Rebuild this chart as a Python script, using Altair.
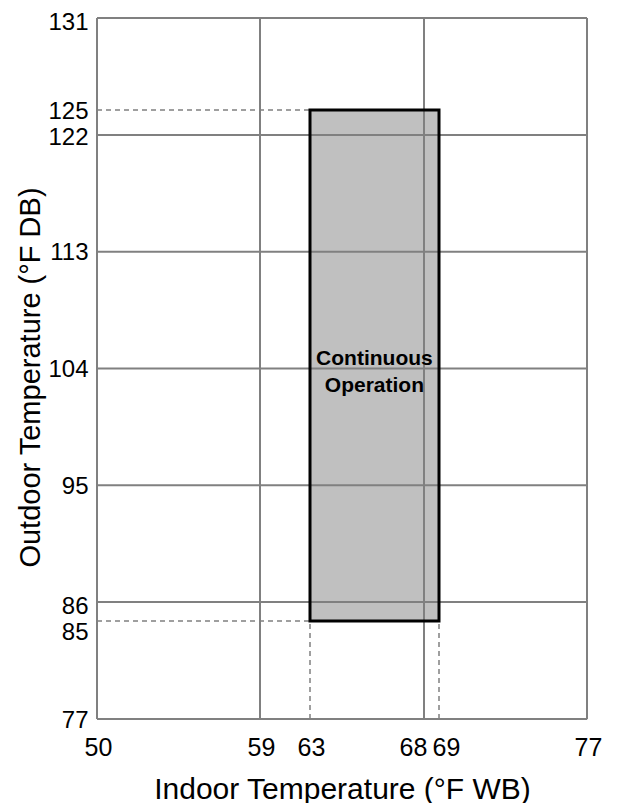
import altair as alt
import pandas as pd

# ---- data ----
x_ticks = [50, 59, 63, 68, 69, 77]          # labelled indoor WB temperatures
y_ticks = [77, 85, 86, 95, 104, 113, 122, 125, 131]  # labelled outdoor DB temperatures
x_grid = [50, 59, 68, 77]
y_grid = [77, 86, 95, 104, 113, 122, 131]
indoor_range = [63, 69]     # continuous operation, indoor WB
outdoor_range = [85, 125]   # continuous operation, outdoor DB
label_text = ["Continuous", "Operation"]

# schematic (non-uniform) axis layout of the original drawing
W, H = 490, 701
x_scale = alt.Scale(domain=[50, 59, 63, 68, 69, 77],
                    range=[0, 163, 213, 327, 342, 490], nice=False, zero=False)
y_scale = alt.Scale(domain=[77, 85, 86, 122, 125, 131],
                    range=[701, 603, 584, 117, 92, 0], nice=False, zero=False)

xmin, xmax = min(x_grid), max(x_grid)
ymin, ymax = min(y_grid), max(y_grid)

grid_df = pd.DataFrame(
    [{"x": v, "x2": v, "y": ymin, "y2": ymax} for v in x_grid]
    + [{"x": xmin, "x2": xmax, "y": v, "y2": v} for v in y_grid]
)
rect_df = pd.DataFrame([{"x": indoor_range[0], "x2": indoor_range[1],
                         "y": outdoor_range[0], "y2": outdoor_range[1]}])
dash_df = pd.DataFrame([
    {"x": xmin, "x2": indoor_range[0], "y": outdoor_range[1], "y2": outdoor_range[1]},
    {"x": xmin, "x2": indoor_range[0], "y": outdoor_range[0], "y2": outdoor_range[0]},
    {"x": indoor_range[0], "x2": indoor_range[0], "y": ymin, "y2": outdoor_range[0]},
    {"x": indoor_range[1], "x2": indoor_range[1], "y": ymin, "y2": outdoor_range[0]},
])
text_df = pd.DataFrame([{"x": sum(indoor_range) / 2, "y": 104,
                         "t": label_text}])

FONT = "Liberation Sans"

x_axis = alt.Axis(
    values=x_ticks, title="Indoor Temperature (°F WB)", grid=False, ticks=False,
    domain=False, labelFontSize=25, labelFont=FONT, labelColor="black",
    labelPadding=16, labelOverlap=False, labelFlush=False,
    labelOffset={"condition": [{"test": "datum.value == 68", "value": -11},
                               {"test": "datum.value == 69", "value": 7}],
                 "value": 1},
    titleFontSize=30, titleFont=FONT, titleFontWeight="normal", titleColor="black",
    titleX=245, titleY=79, titleAlign="center", titleBaseline="alphabetic",
)
y_axis = alt.Axis(
    values=y_ticks, title="Outdoor Temperature (°F DB)", grid=False, ticks=False,
    domain=False, labelFontSize=24, labelFont=FONT, labelColor="black",
    labelPadding=9, labelOverlap=False, labelFlush=False, labelBaseline="middle",
    labelOffset={"condition": [{"test": "datum.value == 85", "value": 11},
                               {"test": "datum.value == 86", "value": 4},
                               {"test": "datum.value == 122", "value": 2},
                               {"test": "datum.value == 131", "value": 4}],
                 "value": 1},
    titleFontSize=29, titleFont=FONT, titleFontWeight="normal", titleColor="black",
    titleX=-67, titleY=359, titleAngle=-90, titleAlign="center", titleBaseline="middle",
)

base_x = alt.X("x:Q", scale=x_scale, axis=x_axis)
base_y = alt.Y("y:Q", scale=y_scale, axis=y_axis)

fill = alt.Chart(rect_df).mark_rect(color="#c0c0c0").encode(
    x=base_x, x2="x2:Q", y=base_y, y2="y2:Q")

grid = alt.Chart(grid_df).mark_rule(color="#808080", strokeWidth=2).encode(
    x="x:Q", x2="x2:Q", y="y:Q", y2="y2:Q")

dashes = alt.Chart(dash_df).mark_rule(color="#808080", strokeWidth=1.5,
                                      strokeDash=[5, 4]).encode(
    x="x:Q", x2="x2:Q", y="y:Q", y2="y2:Q")

outline = alt.Chart(rect_df).mark_rect(fill=None, fillOpacity=0, stroke="black",
                                       strokeWidth=3).encode(
    x="x:Q", x2="x2:Q", y="y:Q", y2="y2:Q")

label = alt.Chart(text_df).mark_text(font=FONT, fontSize=21, fontWeight="bold",
                                     color="black", lineHeight=27, align="center",
                                     baseline="middle", dx=-4, dy=-10).encode(
    x="x:Q", y="y:Q", text="t")

chart = alt.layer(fill, grid, dashes, outline, label).properties(
    width=W, height=H,
    autosize=alt.AutoSizeParams(type="none"),
    padding={"left": 89, "top": 10, "right": 24, "bottom": 84},
).configure_view(stroke=None).configure(background="white")

chart.save("out.html", embed_options={"renderer": "svg", "actions": False})
